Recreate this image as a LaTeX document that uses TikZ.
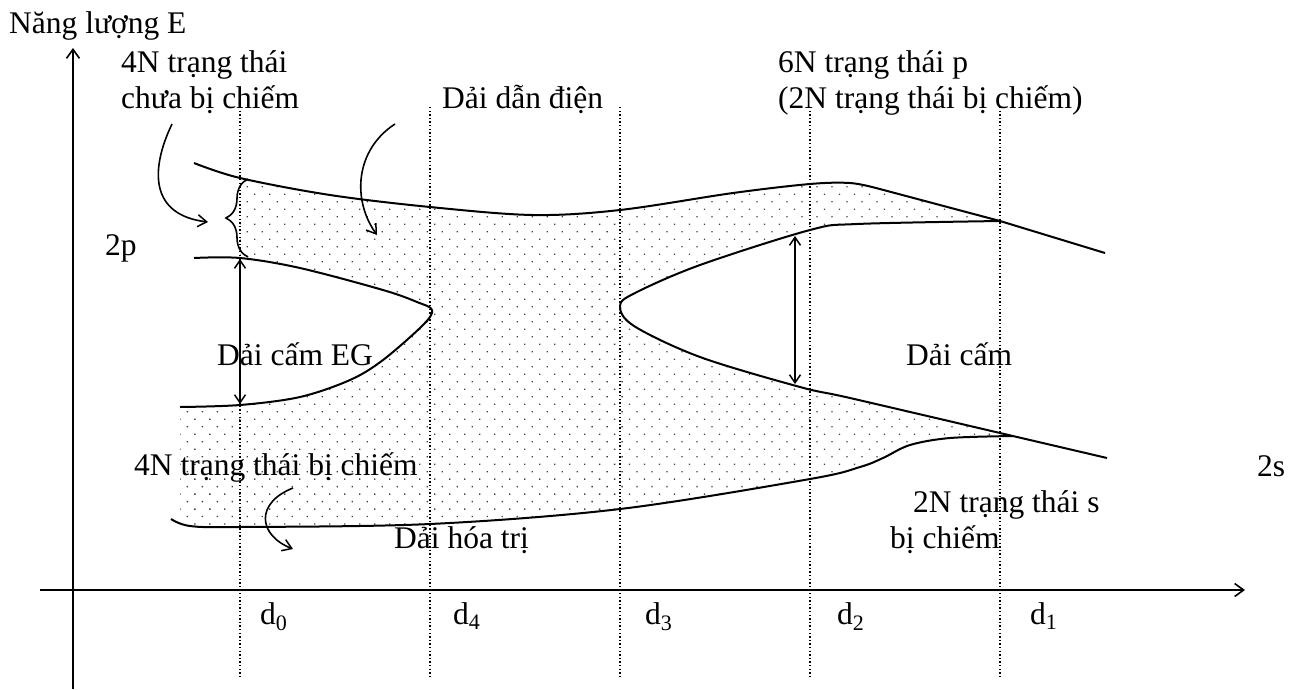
\documentclass[tikz,border=0pt]{standalone}
\usepackage{fontspec}
\setmainfont{Liberation Serif}
\usetikzlibrary{arrows.meta,patterns.meta,decorations.pathreplacing}
\begin{document}
\begin{tikzpicture}[x=1pt,y=-1pt,
  lbl/.style={anchor=base west, inner sep=0pt, font=\fontsize{31.5}{36}\selectfont},
  band/.style={line width=2pt, line join=round},
  axis/.style={line width=2pt, -{Straight Barb[length=9pt,width=13pt,line width=1.6pt]}},
  guide/.style={line width=1.4pt, dash pattern=on 1.4pt off 2.2pt},
  pointer/.style={line width=1.6pt, -{Straight Barb[length=9pt,width=12pt,line width=1.5pt]}},
  dim/.style={line width=1.8pt, {Straight Barb[length=8pt,width=11pt,line width=1.5pt]}-{Straight Barb[length=8pt,width=11pt,line width=1.5pt]}},
  dotfill/.style={pattern={Dots[distance=10.6pt,angle=45,radius=0.9pt]}, pattern color=black!75}]
\path[use as bounding box] (0,0) rectangle (1301,689);

% dotted (occupied/allowed) region
\fill[dotfill]
  (240,178) -- plot[smooth,tension=0.55] coordinates {(240,178) (330,195) (430,207) (533,215) (620,210) (733,193) (810,184) (850,183) (876,188)}
  -- (1000,221)
  -- plot[smooth,tension=0.55] coordinates {(1000,221) (857,224) (810,230) (700,265) (635,293) (620,306) (634,326) (700,357) (800,387) (850,398) (1000,433)}
  -- plot[smooth,tension=0.55] coordinates {(1013,436) (950,438) (910,445) (883,458) (860,467) (810,479) (620,509) (430,524) (240,527) (180,527)}
  -- (180,407)
  -- plot[smooth,tension=0.55] coordinates {(180,407) (240,405) (300,397) (350,380) (383,360) (423,325) (432,310) (417,302) (383,290) (300,268) (240,258)}
  -- cycle;

% dotted guide lines
\foreach \x/\n in {240/0,430/4,620/3,810/2,1000/1}{
  \coordinate (gt\n) at (\x,107);
  \coordinate (gb\n) at (\x,677);
  \draw[guide] (gt\n) -- (gb\n);
}

% axes
\coordinate (yb) at (73,689);
\coordinate (yt) at (73,48);
\draw[axis] (yb) -- (yt);
\coordinate (xl) at (40,590);
\coordinate (xr) at (1245,590);
\draw[axis] (xl) -- (xr);

% band curves
\draw[band] plot[smooth,tension=0.55] coordinates {(194,163) (240,178) (330,195) (430,207) (533,215) (620,210) (733,193) (810,184) (850,183) (876,188)} -- (1000,221) -- (1105,253);
\draw[band] plot[smooth,tension=0.55] coordinates {(194,258) (240,258) (300,268) (383,290) (417,302) (432,310) (423,325) (383,360) (350,380) (300,397) (240,405) (180,407)};
\draw[band] plot[smooth,tension=0.55] coordinates {(1000,221) (857,224) (810,230) (700,265) (635,293) (620,306) (634,326) (700,357) (800,387) (850,398) (1000,433)} -- (1107,458);
\draw[band] plot[smooth,tension=0.55] coordinates {(171,519) (190,526) (240,527) (430,524) (620,509) (810,479) (860,467) (883,458) (910,445) (950,438) (1013,436)};

% brace
\coordinate (brB) at (248,257);
\coordinate (brT) at (248,179);
\draw[line width=1.6pt, decorate, decoration={brace, amplitude=22pt}] (brB) -- (brT);

% gap arrows
\coordinate (egT) at (240,259);
\coordinate (egB) at (240,404);
\draw[dim] (egT) -- (egB);
\coordinate (gT) at (795,236);
\coordinate (gB) at (795,384);
\draw[dim] (gT) -- (gB);

% curved pointers
\coordinate (p1s) at (172,124);
\coordinate (p1e) at (208,222);
\draw[pointer] (p1s) .. controls (150,170) and (150,215) .. (p1e);
\coordinate (p2s) at (395,124);
\coordinate (p2e) at (377,235);
\draw[pointer] (p2s) .. controls (355,150) and (352,200) .. (p2e);
\coordinate (p3s) at (293,488);
\coordinate (p3e) at (293,549);
\draw[pointer] (p3s) .. controls (255,503) and (258,535) .. (p3e);

% labels
\node[lbl] (tE) at (9,33) {Năng lượng E};
\node[lbl] (t4a) at (121,72) {4N trạng thái};
\node[lbl] (t4b) at (121,108) {chưa bị chiếm};
\node[lbl] (tdd) at (442,108) {Dải dẫn điện};
\node[lbl] (t6a) at (778,72) {6N trạng thái p};
\node[lbl] (t6b) at (778,108) {(2N trạng thái bị chiếm)};
\node[lbl] (t2p) at (105,255) {2p};
\node[lbl] (tEG) at (217,365) {Dải cấm EG};
\node[lbl] (tDC) at (906,365) {Dải cấm};
\node[lbl] (t4c) at (134,475) {4N trạng thái bị chiếm};
\node[lbl] (tht) at (394,548) {Dải hóa trị};
\node[lbl] (t2a) at (913,512) {2N trạng thái s};
\node[lbl] (t2b) at (890,548) {bị chiếm};
\node[lbl] (t2s) at (1257,476) {2s};
\node[lbl] (d0) at (260,624) {d\textsubscript{0}};
\node[lbl] (d4) at (453,624) {d\textsubscript{4}};
\node[lbl] (d3) at (645,624) {d\textsubscript{3}};
\node[lbl] (d2) at (837,624) {d\textsubscript{2}};
\node[lbl] (d1) at (1030,624) {d\textsubscript{1}};
\end{tikzpicture}
\end{document}
